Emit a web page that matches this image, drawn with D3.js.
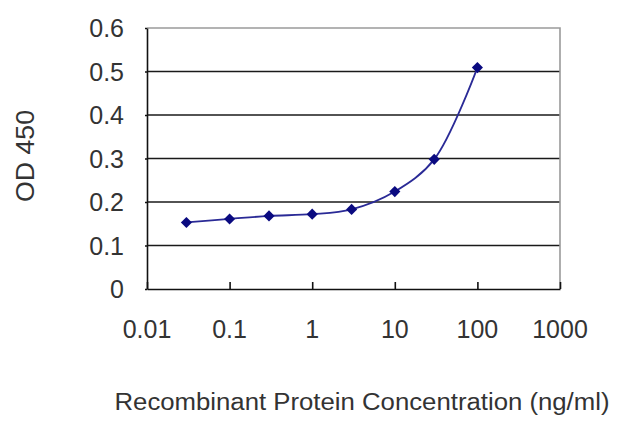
<!DOCTYPE html>
<html>
<head>
<meta charset="utf-8">
<script src="https://cdn.jsdelivr.net/npm/d3@7"></script>
<style>
  body { margin: 0; background: #fff; }
  svg text { font-family: "Liberation Sans", Arial, sans-serif; fill: #333; }
</style>
</head>
<body>
<svg class="chart" width="640" height="427"></svg>
<script>
// concentration (ng/ml) and OD 450
var concentrations = [0.03, 0.1, 0.3, 1, 3, 10, 30, 100];
var odValues = [0.153, 0.161, 0.168, 0.172, 0.183, 0.224, 0.298, 0.509];

var xTicks = [0.01, 0.1, 1, 10, 100, 1000];
var xTickLabels = ['0.01', '0.1', '1', '10', '100', '1000'];
var yTicks = [0, 0.1, 0.2, 0.3, 0.4, 0.5, 0.6];
var yTickLabels = ['0', '0.1', '0.2', '0.3', '0.4', '0.5', '0.6'];

var xTitle = 'Recombinant Protein Concentration (ng/ml)';
var yTitle = 'OD 450';

var margin = {top: 28, right: 80, bottom: 138, left: 147},
    width = 640 - margin.left - margin.right,
    height = 427 - margin.top - margin.bottom;

var svg = d3.select(".chart");

var chart = svg.append("g")
    .attr("transform", "translate(" + margin.left + "," + margin.top + ")");

// x - log scale
var x = d3.scaleLog()
    .domain([0.01, 1000])
    .range([0, width]);

// y - linear
var y = d3.scaleLinear()
    .domain([0, 0.6])
    .range([height, 0]);

// gridlines
chart.selectAll("line.grid")
    .data(yTicks.filter(function(d) { return d > 0 && d < 0.6; }))
  .enter().append("line")
    .attr("class", "grid")
    .attr("x1", 0)
    .attr("x2", width)
    .attr("y1", function(d) { return y(d); })
    .attr("y2", function(d) { return y(d); })
    .attr("stroke", "#1a1a1a")
    .attr("stroke-width", 1.6);

// top and right border (grey)
chart.append("path")
    .attr("d", "M0," + y(0.6) + "H" + width + "V" + height)
    .attr("fill", "none")
    .attr("stroke", "#9a9a9a")
    .attr("stroke-width", 1.6);

// x axis, ticks point up into the plot
var xAxis = d3.axisTop(x)
    .tickValues(xTicks)
    .tickFormat("")
    .tickSizeInner(7)
    .tickSizeOuter(0);

var gx = chart.append("g")
    .attr("class", "x axis")
    .attr("transform", "translate(0," + height + ")")
    .call(xAxis);
gx.selectAll("path, line").attr("stroke", "#111").attr("stroke-width", 1.6);

gx.selectAll("text.lbl")
    .data(xTicks)
  .enter().append("text")
    .attr("class", "lbl")
    .attr("x", function(d) { return x(d); })
    .attr("y", 49)
    .attr("text-anchor", "middle")
    .style("font-size", "25px")
    .text(function(d, i) { return xTickLabels[i]; });

// y axis
var yAxis = d3.axisLeft(y)
    .tickValues(yTicks)
    .tickFormat("")
    .tickSizeInner(2)
    .tickSizeOuter(0);

var gy = chart.append("g")
    .attr("class", "y axis")
    .call(yAxis);
gy.selectAll("path, line").attr("stroke", "#111").attr("stroke-width", 1.6);

gy.selectAll("text.lbl")
    .data(yTicks)
  .enter().append("text")
    .attr("class", "lbl")
    .attr("x", -23)
    .attr("y", function(d) { return y(d); })
    .attr("dy", "0.36em")
    .attr("text-anchor", "end")
    .style("font-size", "25px")
    .text(function(d, i) { return yTickLabels[i]; });

// series line
var pts = concentrations.map(function(c, i) { return [c, odValues[i]]; });

var line = d3.line()
    .x(function(d) { return x(d[0]); })
    .y(function(d) { return y(d[1]); })
    .curve(d3.curveCatmullRom.alpha(0.5));

chart.append("path")
    .datum(pts)
    .attr("fill", "none")
    .attr("stroke", "#2a2a96")
    .attr("stroke-width", 1.8)
    .attr("d", line);

// diamond markers
chart.selectAll("path.marker")
    .data(pts)
  .enter().append("path")
    .attr("class", "marker")
    .attr("d", d3.symbol(d3.symbolSquare, 62))
    .attr("fill", "#0a0a80")
    .attr("transform", function(d) {
      return "translate(" + x(d[0]) + "," + y(d[1]) + ") rotate(45)";
    });

// axis titles
svg.append("text")
    .attr("x", 362)
    .attr("y", 410)
    .attr("text-anchor", "middle")
    .attr("textLength", 495)
    .attr("lengthAdjust", "spacingAndGlyphs")
    .style("font-size", "23px")
    .text(xTitle);

svg.append("text")
    .attr("transform", "translate(34,156) rotate(-90)")
    .attr("text-anchor", "middle")
    .attr("textLength", 92)
    .attr("lengthAdjust", "spacingAndGlyphs")
    .style("font-size", "25px")
    .text(yTitle);
</script>
</body>
</html>
